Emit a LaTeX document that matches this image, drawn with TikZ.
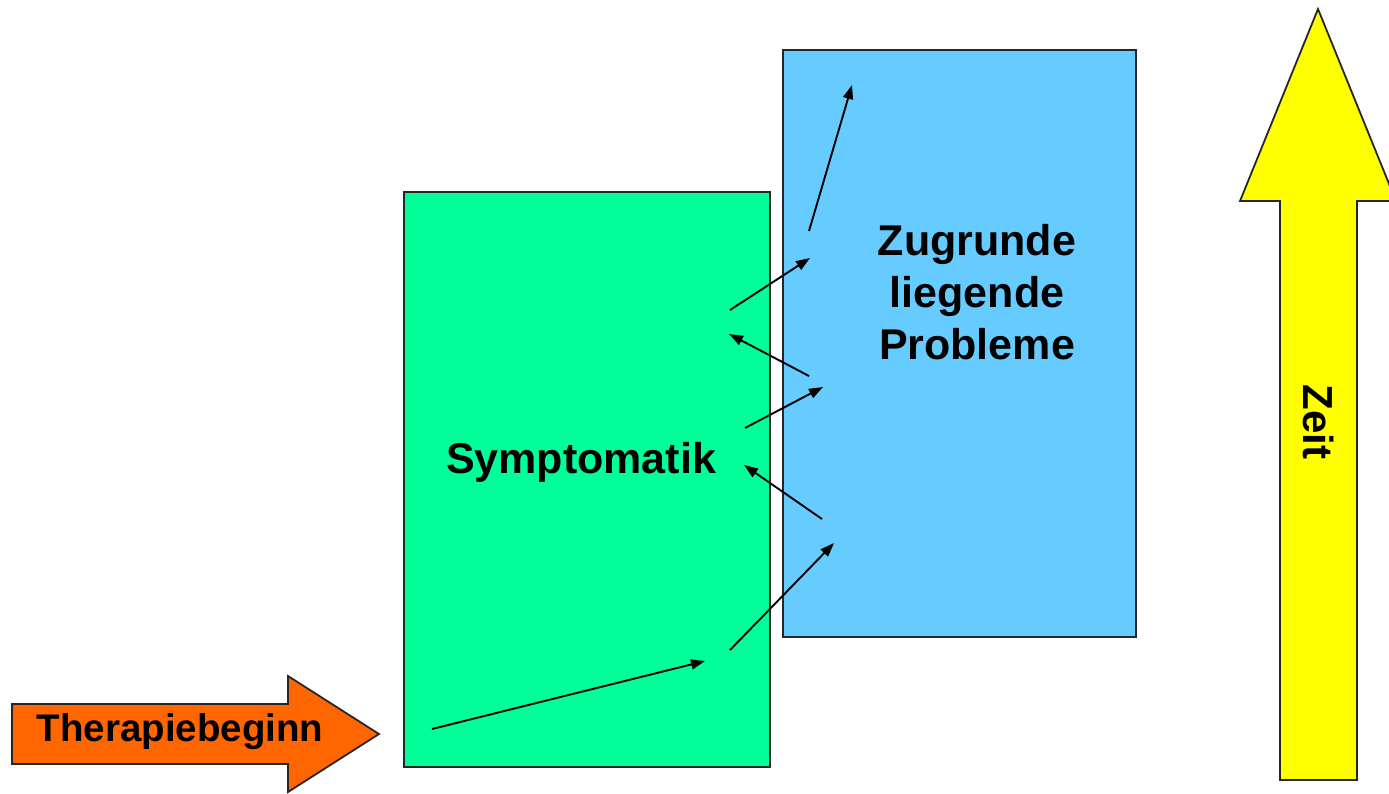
\documentclass[tikz,border=0pt]{standalone}
\usepackage{fontspec}
\setmainfont{Liberation Sans}
\usetikzlibrary{arrows.meta}
\definecolor{symgreen}{HTML}{00FF99}
\definecolor{problue}{HTML}{66CCFF}
\definecolor{theraorange}{HTML}{FF6600}
\definecolor{zeityellow}{HTML}{FFFF00}
\tikzset{
  box/.style={draw=black!85, line width=1.8pt},
  bigarrow/.style={draw=black!85, line width=1.8pt, line join=miter},
  flow/.style={line width=1.9pt, -{Triangle[length=14pt,width=10pt]}},
  lbl/.style={font=\fontsize{43}{52}\selectfont\bfseries, align=center, inner sep=0pt}
}
\begin{document}
\begin{tikzpicture}[x=1pt,y=-1pt]
\useasboundingbox (0,0) rectangle (1389,793);
% boxes
\node[box, fill=symgreen, minimum width=366pt, minimum height=575pt, anchor=north west, inner sep=0pt] (sym) at (403,191) {};
\node[box, fill=problue, minimum width=353pt, minimum height=587pt, anchor=north west, inner sep=0pt] (prob) at (782,49) {};
\node[lbl] (symtxt) at (581,462) {Symptomatik};
\node[lbl] (probtxt) at (977,292) {Zugrunde\\liegende\\Probleme};
% Therapiebeginn arrow
\draw[bigarrow, fill=theraorange] (12,704) -- (288,704) -- (288,676) -- (379,734) -- (288,792) -- (288,764) -- (12,764) -- cycle;
\node[font=\fontsize{38.5}{40}\selectfont\bfseries, inner sep=0pt] (thera) at (180,732) {Therapiebeginn};
% Zeit arrow
\draw[bigarrow, fill=zeityellow] (1280,780) -- (1280,201) -- (1240,201) -- (1318,9) -- (1396,201) -- (1357,201) -- (1357,780) -- cycle;
\node[font=\fontsize{42}{44}\selectfont\bfseries, inner sep=0pt, rotate=-90] (zeit) at (1318,422) {Zeit};
% flow coordinates
\coordinate (a1) at (432,729); \coordinate (b1) at (705,661);
\coordinate (a2) at (730,650); \coordinate (b2) at (834,543);
\coordinate (a3) at (822,519); \coordinate (b3) at (744,465);
\coordinate (a4) at (745,428); \coordinate (b4) at (823,387);
\coordinate (a5) at (809,376); \coordinate (b5) at (729,334);
\coordinate (a6) at (730,310); \coordinate (b6) at (810,258);
\coordinate (a7) at (809,231); \coordinate (b7) at (852,85);
\foreach \i in {1,...,7} {\draw[flow] (a\i) -- (b\i);}
\end{tikzpicture}
\end{document}
